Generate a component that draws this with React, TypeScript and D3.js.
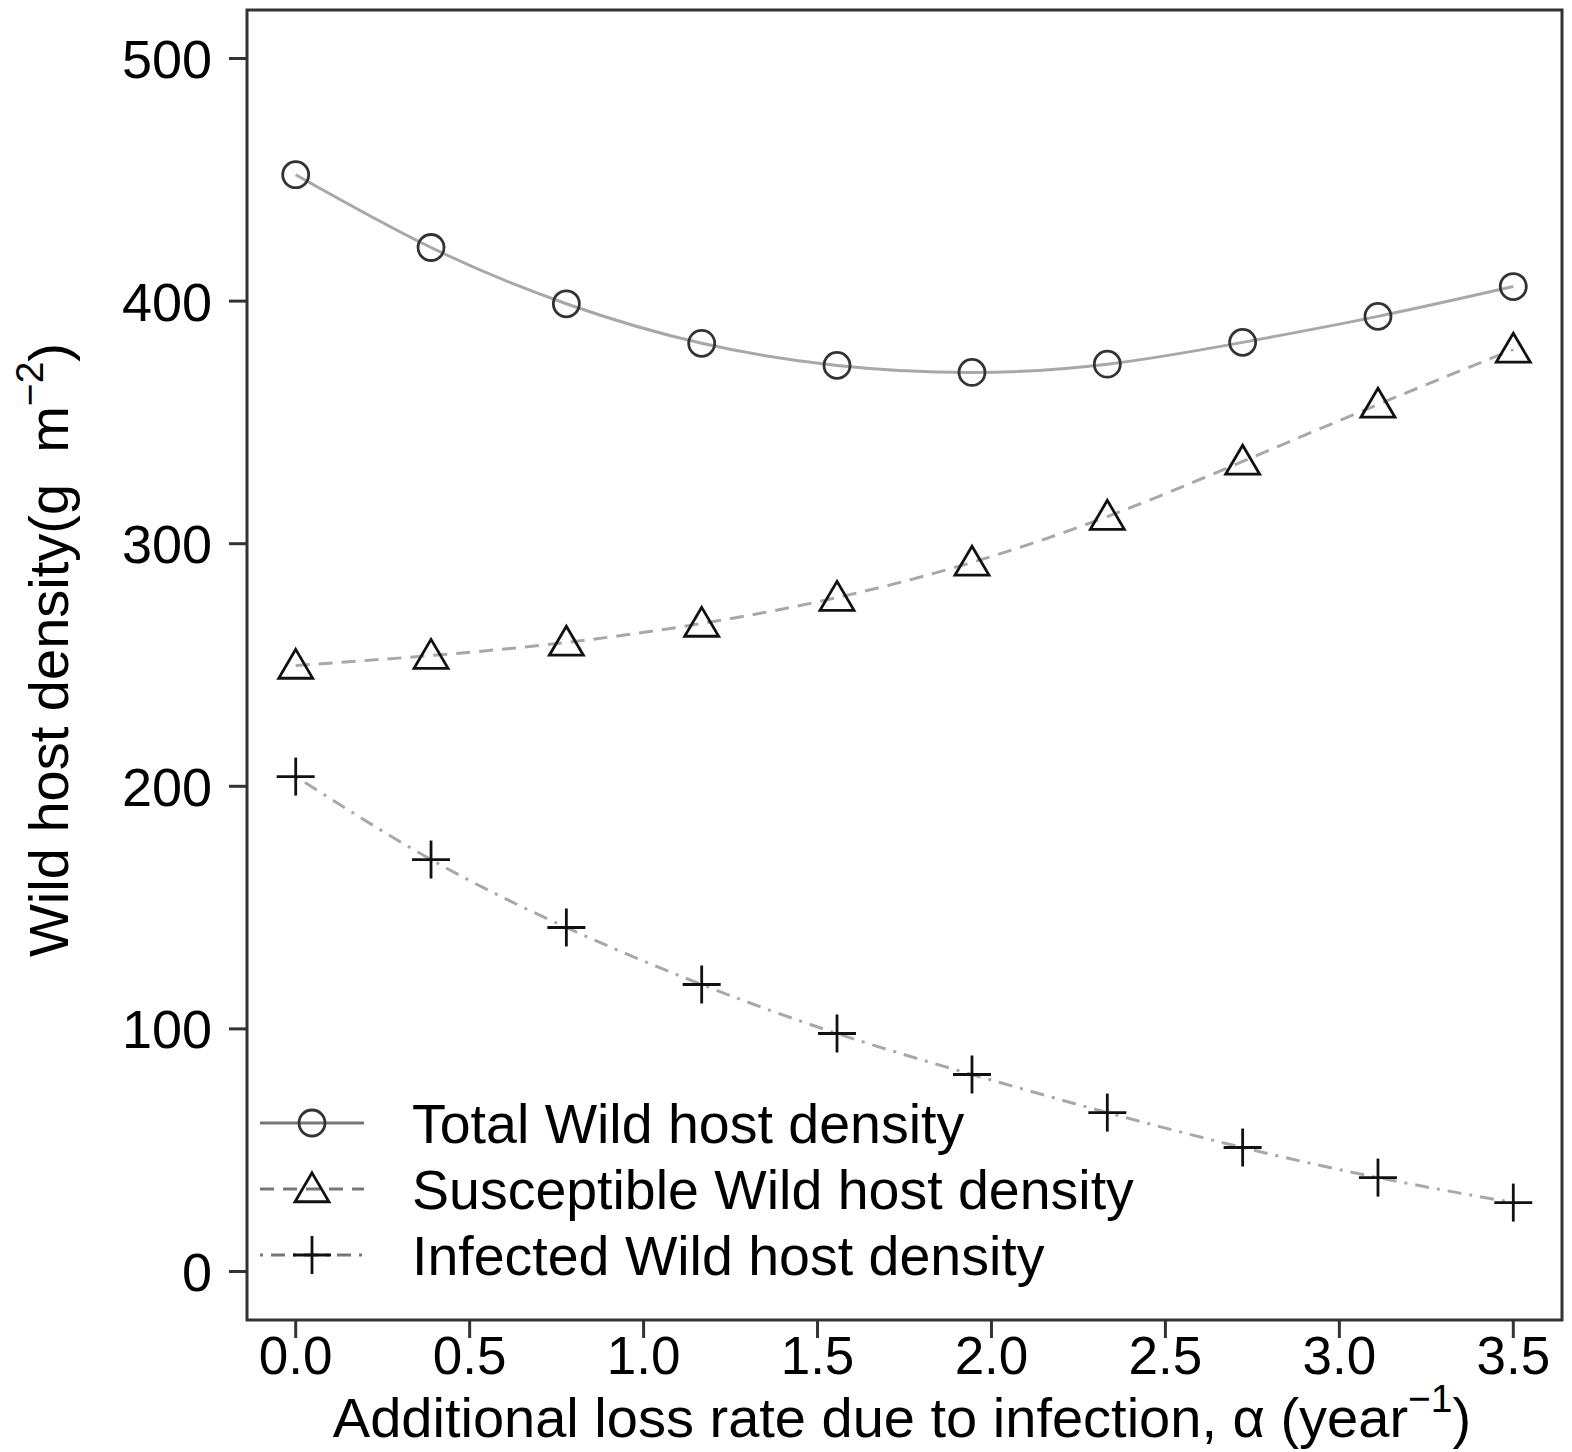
import React from "react";
import * as d3 from "d3";

// loss rate alpha at each computed point
const alpha = [0, 0.389, 0.778, 1.167, 1.556, 1.944, 2.333, 2.722, 3.111, 3.5];
const totalDensity = [452.1, 422.1, 398.9, 382.6, 373.5, 370.6, 374.0, 383.0, 393.7, 406.0];
const susceptibleDensity = [249.8, 253.9, 259.3, 267.1, 277.8, 292.3, 311.2, 333.9, 357.4, 380.1];
const infectedDensity = [204.0, 169.8, 141.8, 118.3, 98.1, 81.2, 65.5, 51.1, 38.7, 28.4];

const xTicks = [0, 0.5, 1, 1.5, 2, 2.5, 3, 3.5];
const yTicks = [0, 100, 200, 300, 400, 500];

const legendLabels = [
  "Total Wild host density",
  "Susceptible Wild host density",
  "Infected Wild host density",
];

const FONT = "'Liberation Sans', Arial, Helvetica, sans-serif";

const App = () => {
  // plot frame
  const left = 247, right = 1562, top = 10, bottom = 1320;

  const x = d3.scaleLinear().domain([-0.14, 3.64]).range([left, right]);
  const y = d3.scaleLinear().domain([-20, 520]).range([bottom, top]);

  const line = (vals: number[]) =>
    d3.line<number>()
      .x((_, i) => x(alpha[i]))
      .y((d) => y(d))
      .curve(d3.curveNatural)(vals) as string;

  const series = [
    { vals: totalDensity, dash: undefined, shape: "circle" },
    { vals: susceptibleDensity, dash: "14 9", shape: "triangle" },
    { vals: infectedDensity, dash: "3 8 14 8", shape: "plus" },
  ];

  const marker = (shape: string, cx: number, cy: number, key: string) => {
    if (shape === "circle")
      return <circle key={key} cx={cx} cy={cy} r={13} fill="none" stroke="#333" strokeWidth={2.8} />;
    if (shape === "triangle") {
      const s = 17;
      const pts = [
        [cx, cy - s * 0.95],
        [cx + s, cy + s * 0.75],
        [cx - s, cy + s * 0.75],
      ];
      return <polygon key={key} points={pts.map((p) => p.join(",")).join(" ")} fill="none" stroke="#111" strokeWidth={2.8} />;
    }
    const h = 19;
    return (
      <g key={key} stroke="#111" strokeWidth={2.8}>
        <line x1={cx - h} x2={cx + h} y1={cy} y2={cy} />
        <line x1={cx} x2={cx} y1={cy - h} y2={cy + h} />
      </g>
    );
  };

  return (
    <svg width={1572} height={1452} style={{ position: "absolute", left: 0, top: 0, background: "#fff" }} fontFamily={FONT}>
      {/* lines */}
      {series.map((s, si) => (
        <path key={"l" + si} d={line(s.vals)} fill="none" stroke="#a8a8a8" strokeWidth={3} strokeDasharray={s.dash} />
      ))}
      {/* markers */}
      {series.map((s, si) => s.vals.map((v, i) => marker(s.shape, x(alpha[i]), y(v), `m${si}-${i}`)))}

      {/* frame */}
      <rect x={left} y={top} width={right - left} height={bottom - top} fill="none" stroke="#333" strokeWidth={3} />

      {/* y axis */}
      {yTicks.map((t) => (
        <g key={"y" + t}>
          <line x1={left - 18} x2={left} y1={y(t)} y2={y(t)} stroke="#333" strokeWidth={3} />
          <text x={212} y={y(t)} dy="0.36em" textAnchor="end" fontSize={54} fill="#000">{t}</text>
        </g>
      ))}

      {/* x axis */}
      {xTicks.map((t) => (
        <g key={"x" + t}>
          <line x1={x(t)} x2={x(t)} y1={bottom} y2={bottom + 18} stroke="#333" strokeWidth={3} />
          <text x={x(t)} y={1374} textAnchor="middle" fontSize={53} fill="#000">{d3.format(".1f")(t)}</text>
        </g>
      ))}

      {/* axis titles */}
      <text x={902} y={1437} textAnchor="middle" fontSize={56} fill="#000">
        Additional loss rate due to infection, α (year
        <tspan fontSize={39} dy={-25}>−1</tspan>
        <tspan dy={25}>)</tspan>
      </text>
      <text transform="translate(68,650) rotate(-90)" textAnchor="middle" fontSize={56} fill="#000" xmlSpace="preserve">
        {"Wild host density(g\u00a0\u00a0m"}
        <tspan fontSize={39} dy={-25}>−2</tspan>
        <tspan dy={25}>)</tspan>
      </text>

      {/* legend */}
      {series.map((s, si) => {
        const ly = 1123 + si * 66;
        return (
          <g key={"lg" + si}>
            <line x1={260} x2={364} y1={ly} y2={ly} stroke="#777" strokeWidth={3} strokeDasharray={s.dash} />
            {marker(s.shape, 312, ly, "lm" + si)}
            <text x={412} y={ly} dy="0.36em" fontSize={55.5} fill="#000">{legendLabels[si]}</text>
          </g>
        );
      })}
    </svg>
  );
};

export default App;
